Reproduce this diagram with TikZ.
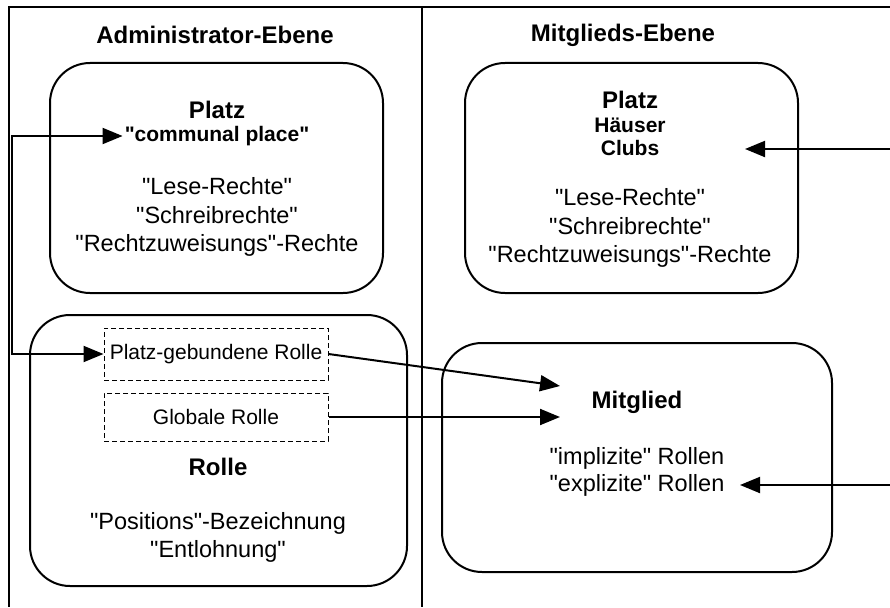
\documentclass[tikz,border=0pt]{standalone}
\usepackage{fontspec}
\setmainfont{Liberation Sans}
\usetikzlibrary{arrows.meta}
\newcommand\dqm{\textquotedbl}
\begin{document}
\begin{tikzpicture}[x=1pt,y=-1pt,
  frame/.style={line width=2pt},
  roundbox/.style={draw,line width=2pt,rounded corners=40pt,inner sep=0pt},
  dashbox/.style={draw,dashed,line width=1pt,dash pattern=on 5pt off 3pt,inner sep=0pt,minimum width=224pt},
  title/.style={font=\bfseries\fontsize{24}{28}\selectfont,inner sep=2pt},
  sub/.style={font=\bfseries\fontsize{21}{24}\selectfont,inner sep=2pt},
  body/.style={font=\fontsize{23.5}{28.5}\selectfont,align=center,inner sep=2pt},
  small/.style={font=\fontsize{21}{24}\selectfont,inner sep=2pt},
  arr/.style={line width=2pt,-{Triangle[length=20pt,width=16pt]}},
  darr/.style={line width=2pt,{Triangle[length=20pt,width=16pt]}-{Triangle[length=20pt,width=16pt]}}]
\useasboundingbox (0,0) rectangle (890,607);
\fill[white] (0,0) rectangle (890,607);
% frame
\draw[frame] (890,7) -- (9,7) -- (9,607);
\draw[frame] (422,7) -- (422,607);
% titles
\node[title] (tadmin) at (215,35) {Administrator-Ebene};
\node[title] (tmit) at (623,35) {Mitglieds-Ebene};
% boxes
\node[roundbox,minimum width=333pt,minimum height=230pt] (ap) at (216.5,178) {};
\node[roundbox,minimum width=333pt,minimum height=230pt] (mp) at (631.5,178) {};
\node[roundbox,minimum width=377pt,minimum height=271pt] (rolle) at (218.5,450.5) {};
\node[roundbox,minimum width=390pt,minimum height=229pt] (mitglied) at (637,457.5) {};
% admin platz texts
\node[title] (ap1) at (217,110) {Platz};
\node[sub] (comm) at (217,136) {\dqm communal place\dqm};
\node[body] (ap2) at (217,217) {\dqm Lese-Rechte\dqm\\\dqm Schreibrechte\dqm\\\dqm Rechtzuweisungs\dqm-Rechte};
% mitglieds platz texts
\node[title] (mp1) at (630,100) {Platz};
\node[sub] (haus) at (630,125) {Häuser};
\node[sub] (clubs) at (630,148) {Clubs};
\node[body] (mp2) at (630,228) {\dqm Lese-Rechte\dqm\\\dqm Schreibrechte\dqm\\\dqm Rechtzuweisungs\dqm-Rechte};
% rolle texts
\node[dashbox,minimum height=52pt] (pgr) at (216,354) {};
\node[small] (pgrt) at (pgr.center) {Platz-gebundene Rolle};
\node[dashbox,minimum height=48pt] (gr) at (216,417) {};
\node[small] (grt) at (gr.center) {Globale Rolle};
\node[title] (r1) at (218,467) {Rolle};
\node[body] (r2) at (218,537.5) {\dqm Positions\dqm-Bezeichnung\\\dqm Entlohnung\dqm};
% mitglied texts
\node[title] (m1) at (637,402) {Mitglied};
\node[body] (impl) at (637,458) {\dqm implizite\dqm{} Rollen};
\node[body] (expl) at (637,485) {\dqm explizite\dqm{} Rollen};
% connectors
\coordinate (L) at (12,136);
\draw[darr] (comm.west) -- (L) |- (pgr.west);
\coordinate (t1) at (560,386);
\coordinate (t2) at (560,417);
\draw[arr] (pgr.east) -- (t1);
\draw[arr] (gr.east) -- (t2);
\coordinate (R1) at (890,149);
\coordinate (t3) at (745,149);
\draw[arr] (R1) -- (t3);
\coordinate (R2) at (890,485);
\coordinate (t4) at (740,485);
\draw[arr] (R2) -- (t4);
\end{tikzpicture}
\end{document}
